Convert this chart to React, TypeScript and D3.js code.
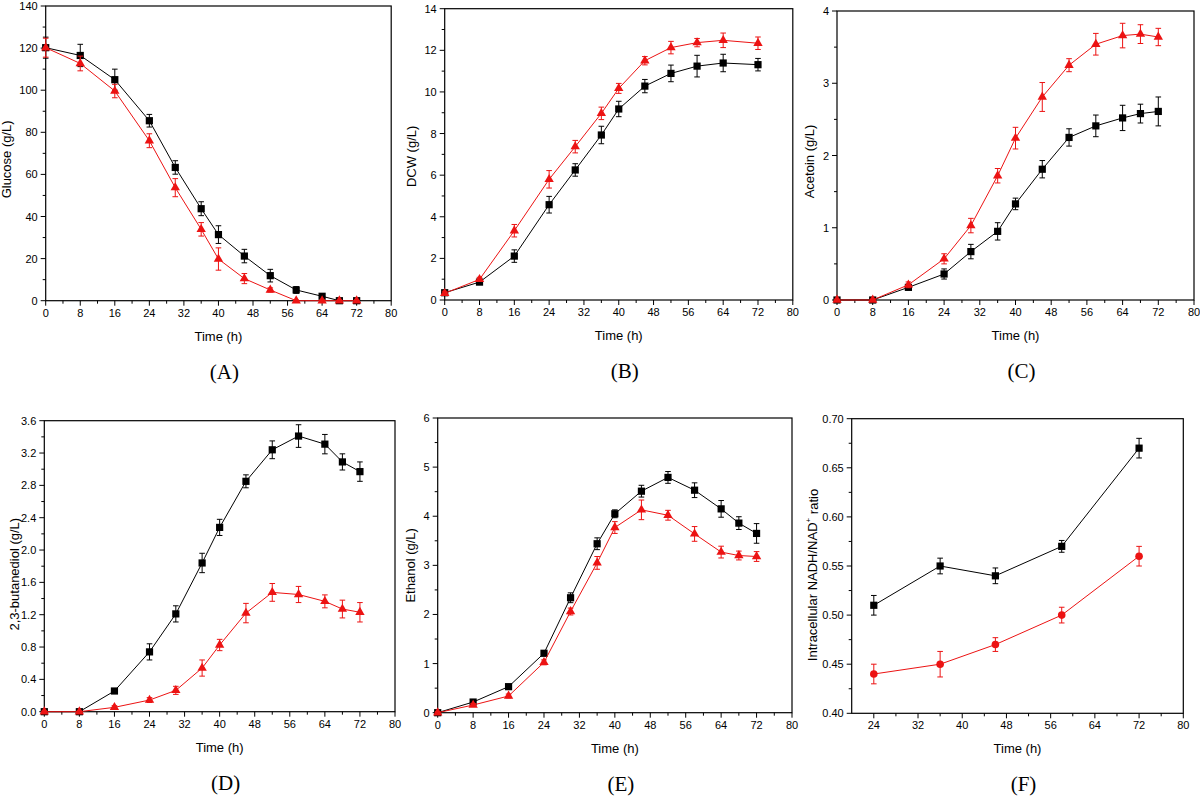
import * as d3 from "d3";
import React from "react";

// sampling times (h)
const hours = [0, 8, 16, 24, 30, 36, 40, 46, 52, 58, 64, 68, 72];
const hoursDcw = [0, 8, 16, 24, 30, 36, 40, 46, 52, 58, 64, 72];
const hoursNadh = [24, 36, 46, 58, 72];

// (A) glucose
const glucoseBlack = [120.2, 116.5, 105, 85.5, 63.3, 43.7, 31.4, 21.2, 11.9, 5.1, 2.1, 0, 0];
const glucoseBlackErr = [5, 5.3, 5, 3, 3.2, 3.3, 4.2, 3.2, 3, 1.6, 1, 0.5, 0.5];
const glucoseRed = [120.2, 112.7, 99.6, 76, 53.7, 33.9, 19.8, 10.5, 5.1, 0, 0, 0, 0];
const glucoseRedErr = [4.5, 3.5, 3.2, 3.3, 4.3, 3.2, 5.3, 2.4, 1, 0.3, 0.3, 0.3, 0.3];

// (B) DCW
const dcwBlack = [0.35, 0.86, 2.11, 4.58, 6.25, 7.93, 9.18, 10.28, 10.89, 11.24, 11.39, 11.31];
const dcwBlackErr = [0.1, 0.1, 0.3, 0.4, 0.3, 0.42, 0.37, 0.32, 0.4, 0.52, 0.42, 0.3];
const dcwRed = [0.32, 0.99, 3.33, 5.8, 7.37, 8.97, 10.17, 11.5, 12.13, 12.37, 12.48, 12.34];
const dcwRedErr = [0.1, 0.1, 0.3, 0.42, 0.3, 0.3, 0.24, 0.2, 0.3, 0.2, 0.35, 0.3];

// (C) acetoin
const acetoinBlack = [0, 0, 0.175, 0.36, 0.67, 0.95, 1.33, 1.81, 2.25, 2.41, 2.52, 2.58, 2.61];
const acetoinBlackErr = [0.01, 0.01, 0.03, 0.07, 0.1, 0.12, 0.08, 0.12, 0.12, 0.15, 0.175, 0.13, 0.2];
const acetoinRed = [0, 0, 0.21, 0.57, 1.03, 1.72, 2.24, 2.81, 3.25, 3.54, 3.66, 3.68, 3.64];
const acetoinRedErr = [0.01, 0.01, 0.04, 0.07, 0.1, 0.1, 0.15, 0.2, 0.09, 0.15, 0.17, 0.13, 0.12];

// (D) 2,3-butanediol
const bdoBlack = [0, 0, 0.256, 0.74, 1.21, 1.84, 2.28, 2.85, 3.24, 3.41, 3.31, 3.09, 2.97];
const bdoBlackErr = [0.01, 0.01, 0.02, 0.1, 0.1, 0.12, 0.1, 0.08, 0.11, 0.14, 0.12, 0.1, 0.12];
const bdoRed = [0, 0, 0.054, 0.144, 0.264, 0.54, 0.825, 1.22, 1.476, 1.45, 1.365, 1.27, 1.23];
const bdoRedErr = [0.01, 0.01, 0.02, 0.03, 0.05, 0.1, 0.07, 0.12, 0.11, 0.1, 0.08, 0.11, 0.12];

// (E) ethanol
const ethanolBlack = [0, 0.217, 0.53, 1.21, 2.34, 3.44, 4.05, 4.51, 4.79, 4.53, 4.15, 3.86, 3.65];
const ethanolBlackErr = [0.02, 0.03, 0.03, 0.05, 0.1, 0.12, 0.08, 0.12, 0.12, 0.15, 0.17, 0.13, 0.2];
const ethanolRed = [0, 0.156, 0.34, 1.025, 2.06, 3.05, 3.77, 4.13, 4.02, 3.64, 3.27, 3.2, 3.18];
const ethanolRedErr = [0.02, 0.03, 0.04, 0.05, 0.07, 0.13, 0.12, 0.2, 0.1, 0.15, 0.12, 0.09, 0.1];

// (F) NADH/NAD+
const nadhBlack = [0.51, 0.55, 0.54, 0.57, 0.67];
const nadhBlackErr = [0.01, 0.008, 0.008, 0.006, 0.01];
const nadhRed = [0.44, 0.45, 0.47, 0.5, 0.56];
const nadhRedErr = [0.01, 0.013, 0.007, 0.008, 0.01];

// tick values
const timeTicks = [0, 8, 16, 24, 32, 40, 48, 56, 64, 72, 80];
const timeTicksF = [24, 32, 40, 48, 56, 64, 72, 80];
const glucoseTicks = [0, 20, 40, 60, 80, 100, 120, 140];
const dcwTicks = [0, 2, 4, 6, 8, 10, 12, 14];
const acetoinTicks = [0, 1, 2, 3, 4];
const bdoTicks = [0, 0.4, 0.8, 1.2, 1.6, 2.0, 2.4, 2.8, 3.2, 3.6];
const ethanolTicks = [0, 1, 2, 3, 4, 5, 6];
const nadhTicks = [0.4, 0.45, 0.5, 0.55, 0.6, 0.65, 0.7];

const BLACK = "#000";
const RED = "#ec1313";
const SANS = "'Liberation Sans', Arial, sans-serif";
const SERIF = "'Liberation Serif', 'Times New Roman', serif";

type Series = { x: number[]; y: number[]; err: number[]; color: string; marker: string };

const panels = [
  {
    label: "(A)", frame: [45.7, 391.2, 6, 300.7], titleOff: 39, titleDy: 6, yTitle: "Glucose (g/L)",
    xDomain: [0, 80], xTicks: timeTicks, yDomain: [0, 140], yTicks: glucoseTicks, fmt: d3.format("d"),
    series: [
      { x: hours, y: glucoseBlack, err: glucoseBlackErr, color: BLACK, marker: "square" },
      { x: hours, y: glucoseRed, err: glucoseRedErr, color: RED, marker: "triangle" },
    ],
  },
  {
    label: "(B)", frame: [444.7, 792.8, 8.7, 300], titleOff: 33, titleDy: 2, yTitle: "DCW (g/L)",
    xDomain: [0, 80], xTicks: timeTicks, yDomain: [0, 14], yTicks: dcwTicks, fmt: d3.format("d"),
    series: [
      { x: hoursDcw, y: dcwBlack, err: dcwBlackErr, color: BLACK, marker: "square" },
      { x: hoursDcw, y: dcwRed, err: dcwRedErr, color: RED, marker: "triangle" },
    ],
  },
  {
    label: "(C)", frame: [837, 1194, 11, 300], titleOff: 27.5, titleDy: 6, yTitle: "Acetoin (g/L)",
    xDomain: [0, 80], xTicks: timeTicks, yDomain: [0, 4], yTicks: acetoinTicks, fmt: d3.format("d"),
    series: [
      { x: hours, y: acetoinBlack, err: acetoinBlackErr, color: BLACK, marker: "square" },
      { x: hours, y: acetoinRed, err: acetoinRedErr, color: RED, marker: "triangle" },
    ],
  },
  {
    label: "(D)", frame: [44.3, 395, 420.7, 711.7], titleOff: 30, titleDy: 8, yTitle: "2,3-butanediol (g/L)",
    xDomain: [0, 80], xTicks: timeTicks, yDomain: [0, 3.6], yTicks: bdoTicks, fmt: d3.format(".1f"),
    series: [
      { x: hours, y: bdoBlack, err: bdoBlackErr, color: BLACK, marker: "square" },
      { x: hours, y: bdoRed, err: bdoRedErr, color: RED, marker: "triangle" },
    ],
  },
  {
    label: "(E)", frame: [437.7, 792, 418, 712.7], titleOff: 27, titleDy: 0, yTitle: "Ethanol (g/L)",
    xDomain: [0, 80], xTicks: timeTicks, yDomain: [0, 6], yTicks: ethanolTicks, fmt: d3.format("d"),
    series: [
      { x: hours, y: ethanolBlack, err: ethanolBlackErr, color: BLACK, marker: "square" },
      { x: hours, y: ethanolRed, err: ethanolRedErr, color: RED, marker: "triangle" },
    ],
  },
  {
    label: "(F)", frame: [851.7, 1183.3, 418.7, 713.3], titleOff: 39, titleDy: 9, yTitle: "nadh",
    xDomain: [20, 80], xTicks: timeTicksF, yDomain: [0.4, 0.7], yTicks: nadhTicks, fmt: d3.format(".2f"),
    series: [
      { x: hoursNadh, y: nadhBlack, err: nadhBlackErr, color: BLACK, marker: "square" },
      { x: hoursNadh, y: nadhRed, err: nadhRedErr, color: RED, marker: "circle" },
    ],
  },
];

const triangle = d3.symbol(d3.symbolTriangle, 38)();

function Marker({ kind, x, y, color }: { kind: string; x: number; y: number; color: string }) {
  if (kind === "square") return <rect x={x - 3.6} y={y - 3.6} width={7.2} height={7.2} fill={color} />;
  if (kind === "circle") return <circle cx={x} cy={y} r={3.8} fill={color} />;
  return <path d={triangle!} transform={`translate(${x},${y})`} fill={color} />;
}

function Panel({ p }: { p: (typeof panels)[number] }) {
  const [l, r, t, b] = p.frame;
  const x = d3.scaleLinear().domain(p.xDomain).range([l, r]);
  const y = d3.scaleLinear().domain(p.yDomain).range([b, t]);
  const xMinor = p.xTicks.slice(0, -1).map((v, i) => (v + p.xTicks[i + 1]) / 2);
  const yMinor = p.yTicks.slice(0, -1).map((v, i) => (v + p.yTicks[i + 1]) / 2);
  const cx = (l + r) / 2;
  const cy = (t + b) / 2 + p.titleDy;
  const path = d3.line<number>();

  return (
    <g>
      <rect x={l} y={t} width={r - l} height={b - t} fill="none" stroke="#000" strokeWidth={1.2} />
      {p.xTicks.map((v) => (
        <g key={"xt" + v}>
          <line x1={x(v)} x2={x(v)} y1={b} y2={b + 5} stroke="#000" />
          <text x={x(v)} y={b + 16} textAnchor="middle" fontSize={11} fontFamily={SANS}>{v}</text>
        </g>
      ))}
      {xMinor.map((v) => (
        <line key={"xm" + v} x1={x(v)} x2={x(v)} y1={b} y2={b + 3} stroke="#000" />
      ))}
      {p.yTicks.map((v) => (
        <g key={"yt" + v}>
          <line x1={l - 5} x2={l} y1={y(v)} y2={y(v)} stroke="#000" />
          <text x={l - 8} y={y(v) + 4} textAnchor="end" fontSize={11} fontFamily={SANS}>{p.fmt(v)}</text>
        </g>
      ))}
      {yMinor.map((v) => (
        <line key={"ym" + v} x1={l - 3} x2={l} y1={y(v)} y2={y(v)} stroke="#000" />
      ))}
      <text x={cx} y={b + 40} textAnchor="middle" fontSize={13} fontFamily={SANS}>Time (h)</text>
      <text x={cx + 6} y={b + 78} textAnchor="middle" fontSize={21} fontFamily={SERIF}>{p.label}</text>
      <text transform={`translate(${l - p.titleOff},${cy}) rotate(-90)`} textAnchor="middle"
        dominantBaseline="central" fontSize={13} fontFamily={SANS}>
        {p.yTitle === "nadh" ? (
          <>Intracellular NADH/NAD<tspan dy={-5} fontSize={8}>+</tspan><tspan dy={5}> ratio</tspan></>
        ) : p.yTitle}
      </text>
      {p.series.map((s: Series, si) => {
        const pts = s.x.map((xv, i) => [x(xv), y(s.y[i])] as [number, number]);
        return (
          <g key={si}>
            <path d={path(pts)!} fill="none" stroke={s.color} strokeWidth={1} />
            {s.x.map((xv, i) => {
              const px = x(xv);
              const hi = y(s.y[i] + s.err[i]);
              const lo = y(Math.max(p.yDomain[0], s.y[i] - s.err[i]));
              return (
                <g key={i} stroke={s.color} strokeWidth={1}>
                  <line x1={px} x2={px} y1={hi} y2={lo} />
                  <line x1={px - 2.8} x2={px + 2.8} y1={hi} y2={hi} />
                  <line x1={px - 2.8} x2={px + 2.8} y1={lo} y2={lo} />
                </g>
              );
            })}
            {s.x.map((xv, i) => (
              <Marker key={"m" + i} kind={s.marker} x={x(xv)} y={y(s.y[i])} color={s.color} />
            ))}
          </g>
        );
      })}
    </g>
  );
}

export default function App() {
  return (
    <div style={{ position: "absolute", left: 0, top: 0 }}>
      <svg width={1200} height={796} style={{ display: "block", background: "#fff" }}>
        {panels.map((p) => (
          <Panel key={p.label} p={p} />
        ))}
      </svg>
    </div>
  );
}
